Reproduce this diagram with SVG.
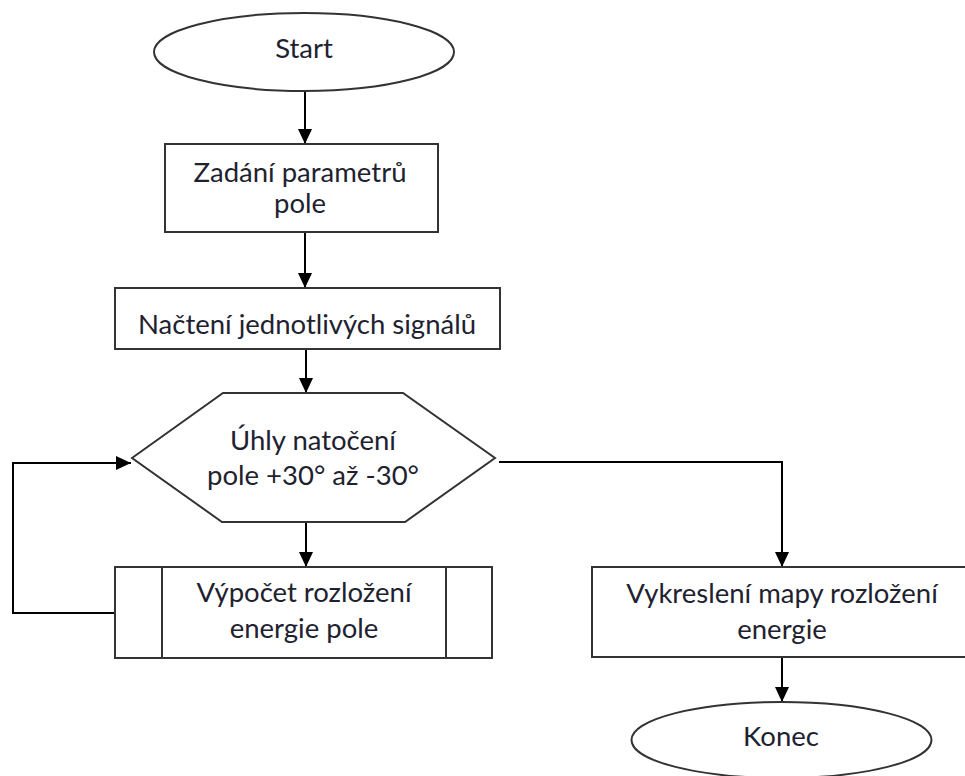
<svg xmlns="http://www.w3.org/2000/svg" width="965" height="776" viewBox="0 0 965 776">
<defs>
<marker id="arr" markerUnits="userSpaceOnUse" markerWidth="15" markerHeight="14" refX="15" refY="7" orient="auto">
<path d="M0,0 L15,7 L0,14 z" fill="#000"/>
</marker>
<style>
.s{fill:#fff;stroke:#333;stroke-width:2}
.c{fill:none;stroke:#000;stroke-width:2}
.t{font-family:Lato,"Liberation Sans",sans-serif;font-size:27.5px;fill:#1e2230;text-anchor:middle}
</style>
</defs>
<rect width="965" height="776" fill="#fff"/>
<g id="connectors">
<path class="c" d="M305,91 V144" marker-end="url(#arr)"/>
<path class="c" d="M305,232 V288" marker-end="url(#arr)"/>
<path class="c" d="M306,349 V393" marker-end="url(#arr)"/>
<path class="c" d="M306,522 V567" marker-end="url(#arr)"/>
<path class="c" d="M115,613 H13 V463 H131" marker-end="url(#arr)"/>
<path class="c" d="M499,462 H782 V567" marker-end="url(#arr)"/>
<path class="c" d="M782,657 V702" marker-end="url(#arr)"/>
</g>
<g id="start">
<ellipse class="s" cx="304" cy="52" rx="150" ry="39"/>
<text class="t" x="304" y="58">Start</text>
</g>
<g id="zadani">
<rect class="s" x="165" y="144" width="273" height="88"/>
<text class="t" x="300" y="182">Zadání parametrů</text>
<text class="t" x="300" y="213">pole</text>
</g>
<g id="nacteni">
<rect class="s" x="115" y="288" width="385" height="61"/>
<text class="t" x="307" y="334">Načtení jednotlivých signálů</text>
</g>
<g id="uhly">
<polygon class="s" points="132,458 223,393 403,393 495,458 405,522 222,522"/>
<text class="t" x="313" y="450">Úhly natočení</text>
<text class="t" x="313" y="485">pole +30° až -30°</text>
</g>
<g id="vypocet">
<rect class="s" x="115" y="567" width="377" height="91"/>
<line class="s" x1="162" y1="567" x2="162" y2="658"/>
<line class="s" x1="446" y1="567" x2="446" y2="658"/>
<text class="t" x="304" y="602">Výpočet rozložení</text>
<text class="t" x="304" y="638">energie pole</text>
</g>
<g id="vykresleni">
<rect class="s" x="592" y="567" width="380" height="90"/>
<text class="t" x="782" y="603">Vykreslení mapy rozložení</text>
<text class="t" x="782" y="639">energie</text>
</g>
<g id="konec">
<ellipse class="s" cx="781.5" cy="740" rx="150" ry="38"/>
<text class="t" x="781" y="746">Konec</text>
</g>
</svg>
